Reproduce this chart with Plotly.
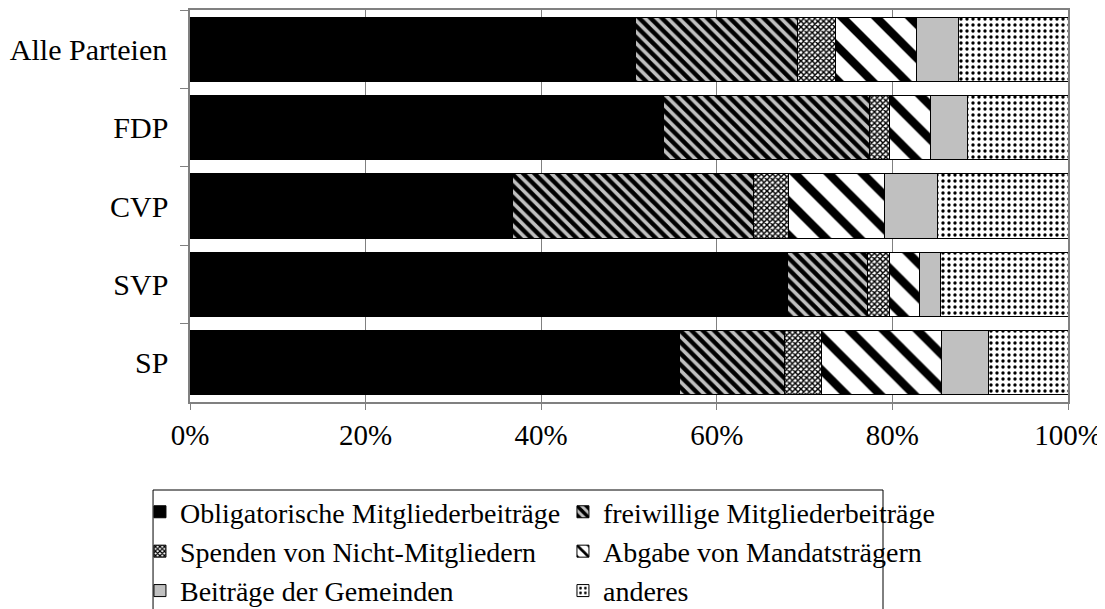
import plotly.graph_objects as go

parties = ["Alle Parteien", "FDP", "CVP", "SVP", "SP"]
series_names = [
    "Obligatorische Mitgliederbeiträge",
    "freiwillige Mitgliederbeiträge",
    "Spenden von Nicht-Mitgliedern",
    "Abgabe von Mandatsträgern",
    "Beiträge der Gemeinden",
    "anderes",
]
obligatorisch = [50.7, 53.9, 36.7, 68.1, 55.7]
freiwillig = [18.5, 23.5, 27.5, 9.1, 12.0]
spenden = [4.3, 2.3, 4.0, 2.5, 4.2]
abgabe = [9.3, 4.6, 10.9, 3.4, 13.7]
gemeinden = [4.7, 4.2, 6.0, 2.4, 5.4]
anderes = [12.5, 11.5, 14.9, 14.5, 9.0]
tick_vals = [0, 20, 40, 60, 80, 100]
tick_text = ["0%", "20%", "40%", "60%", "80%", "100%"]

values = [obligatorisch, freiwillig, spenden, abgabe, gemeinden, anderes]
styles = [
    dict(color="black", pattern=dict(shape="")),
    dict(color="#C0C0C0", pattern=dict(shape="\\", fgcolor="#000000", bgcolor="#C0C0C0",
                                       fgopacity=1, size=8, solidity=0.55)),
    dict(color="white", pattern=dict(shape="x", fgcolor="#000000", bgcolor="white",
                                     fgopacity=1, size=4, solidity=0.6)),
    dict(color="white", pattern=dict(shape="\\", fgcolor="#000000", bgcolor="white",
                                     fgopacity=1, size=24, solidity=0.35)),
    dict(color="#C0C0C0", pattern=dict(shape="")),
    dict(color="white", pattern=dict(shape=".", fgcolor="#000000", bgcolor="white",
                                     fgopacity=1, size=6, solidity=0.25)),
]

fig = go.Figure()
for name, vals, st in zip(series_names, values, styles):
    fig.add_trace(go.Bar(
        y=parties, x=vals, name=name, orientation="h",
        marker=dict(color=st["color"], pattern=st["pattern"],
                    line=dict(color="black", width=1)),
    ))

font = dict(family="Liberation Serif", size=29, color="black")
lfont = dict(family="Liberation Serif", size=28, color="black")
yfont = dict(family="Liberation Serif", size=30, color="black")

# plot area on screen: x 190..1068, y 10..402 (page has an 8px body margin)
fig.update_layout(
    barmode="stack",
    bargap=0.18,
    width=1105, height=609,
    margin=dict(l=182, r=45, t=2, b=215, autoexpand=False),
    plot_bgcolor="white", paper_bgcolor="white",
    font=font,
    showlegend=True,
    legend=dict(
        orientation="h", x=-0.057, y=-0.217, xanchor="left", yanchor="top",
        entrywidth=378, entrywidthmode="pixels",
        borderwidth=0, bgcolor="rgba(0,0,0,0)",
        font=lfont, traceorder="normal",
    ),
    shapes=[dict(
        type="rect", xref="paper", yref="paper",
        x0=-0.0421, x1=0.7893, y0=-0.62, y1=-0.2245,
        line=dict(color="black", width=1), fillcolor="rgba(0,0,0,0)", layer="below",
    )],
    xaxis=dict(
        range=[0, 100], tickvals=tick_vals, ticktext=tick_text,
        showgrid=True, gridcolor="#808080", gridwidth=1,
        showline=True, linecolor="#808080", linewidth=1.5, mirror=True,
        ticks="outside", ticklen=6, tickcolor="#808080", zeroline=False,
        tickfont=font,
    ),
    yaxis=dict(
        categoryorder="array", categoryarray=parties, autorange="reversed",
        showline=True, linecolor="#808080", linewidth=1.5, mirror=True,
        ticks="outside", ticklen=8, tickcolor="#808080", tickson="boundaries",
        showgrid=False, tickfont=yfont, ticksuffix="  ",
    ),
)

fig.write_html("out.html")
